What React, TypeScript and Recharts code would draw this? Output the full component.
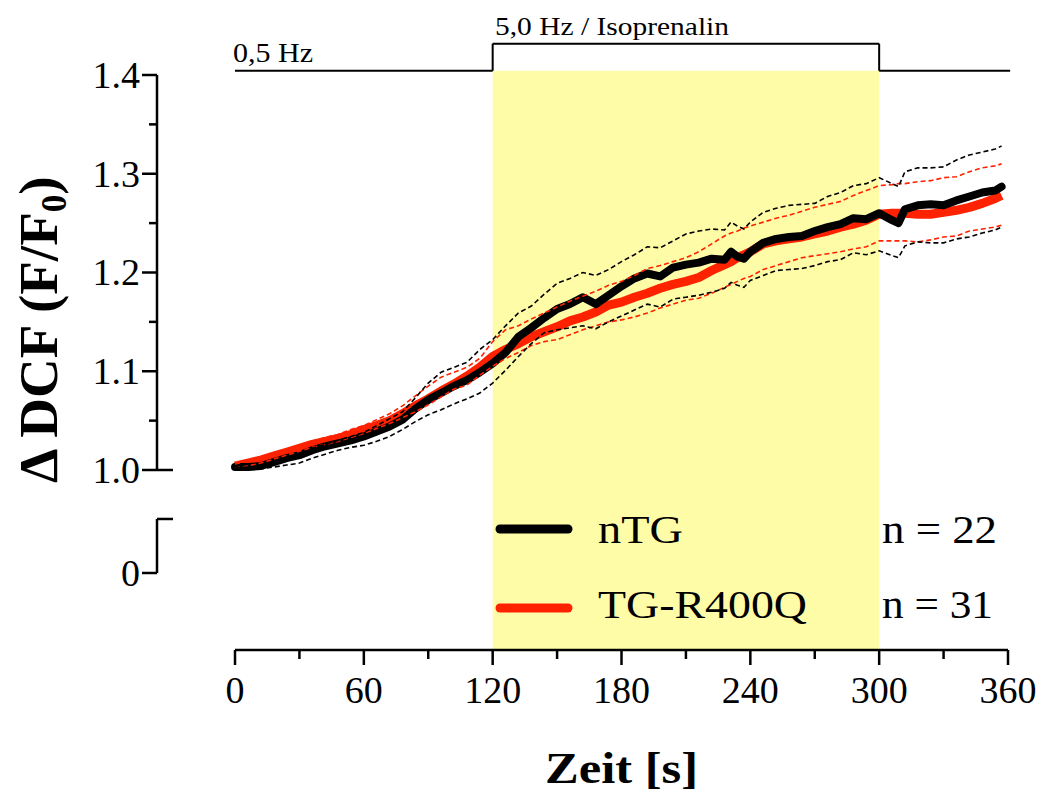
import React from 'react';
import { ComposedChart, Line, XAxis, YAxis, ReferenceArea, ReferenceLine, Legend } from 'recharts';

// time points [s]
const times = [0,6,12,18,24,30,36,42,48,54,60,66,72,78,84,90,96,102,108,114,120,126,132,138,144,150,156,162,168,174,180,186,192,198,204,210,216,222,228,231,234,237,240,246,252,258,264,270,276,282,288,294,300,306,309,312,318,324,330,336,342,348,354,357];

const ntgMean = [1.003,1.003,1.004,1.008,1.012,1.015,1.020,1.024,1.027,1.030,
1.034,1.039,1.044,1.051,1.062,1.071,1.078,1.085,1.091,1.099,
1.108,1.119,1.135,1.144,1.154,1.163,1.168,1.175,1.168,1.177,
1.186,1.194,1.199,1.196,1.205,1.208,1.210,1.214,1.213,
1.221,1.216,1.214,
1.221,1.230,1.234,1.236,1.237,1.242,1.246,1.249,1.255,1.254,1.260,1.253,
1.250,
1.264,1.268,1.269,1.268,1.273,1.277,1.281,1.283,
1.287];

const tgMean = [1.004,1.007,1.010,1.014,1.018,1.022,1.026,1.029,1.032,1.036,
1.041,1.045,1.050,1.057,1.065,1.072,1.080,1.087,1.095,1.104,
1.115,1.122,1.128,1.135,1.140,1.145,1.151,1.155,1.160,1.167,
1.170,1.175,1.179,1.184,1.188,1.191,1.195,1.202,1.208,
1.211,1.215,1.218,
1.221,1.229,1.232,1.234,1.236,1.239,1.242,1.246,1.249,1.253,1.259,1.260,
1.260,
1.260,1.259,1.259,1.261,1.263,1.266,1.270,1.275,
1.278];

const ntgUpper = [1.002,1.003,1.004,1.008,1.011,1.015,1.022,1.026,1.030,1.034,
1.038,1.045,1.052,1.059,1.073,1.088,1.099,1.104,1.109,1.122,
1.132,1.146,1.159,1.166,1.178,1.189,1.194,1.200,1.197,1.203,
1.211,1.218,1.226,1.225,1.232,1.239,1.242,1.244,1.243,
1.251,1.247,1.244,
1.251,1.261,1.265,1.268,1.269,1.270,1.277,1.281,1.288,1.290,1.296,1.290,
1.287,
1.302,1.306,1.306,1.307,1.314,1.319,1.322,1.325,
1.328];

const ntgLower = [1.001,1.001,1.001,1.003,1.005,1.007,1.012,1.016,1.020,1.023,
1.025,1.029,1.034,1.041,1.049,1.056,1.061,1.067,1.072,1.078,
1.088,1.101,1.115,1.128,1.139,1.142,1.144,1.146,1.143,1.150,
1.156,1.162,1.168,1.165,1.173,1.175,1.177,1.180,1.184,
1.190,1.187,1.185,
1.192,1.197,1.202,1.203,1.204,1.207,1.211,1.213,1.220,1.218,1.222,1.217,
1.215,
1.227,1.231,1.230,1.230,1.234,1.236,1.240,1.243,
1.246];

const tgUpper = [1.006,1.009,1.012,1.016,1.020,1.024,1.029,1.033,1.036,1.041,
1.045,1.051,1.057,1.065,1.075,1.085,1.094,1.099,1.104,1.113,
1.130,1.142,1.146,1.153,1.159,1.165,1.171,1.176,1.181,1.187,
1.191,1.197,1.204,1.207,1.211,1.215,1.221,1.229,1.237,
1.240,1.242,1.245,
1.247,1.251,1.255,1.258,1.262,1.266,1.269,1.272,1.278,1.283,1.288,1.289,
1.290,
1.290,1.292,1.293,1.296,1.297,1.302,1.306,1.308,
1.310];

const tgLower = [1.002,1.004,1.007,1.011,1.015,1.019,1.023,1.026,1.029,1.033,
1.037,1.042,1.047,1.053,1.059,1.066,1.074,1.082,1.086,1.096,
1.105,1.113,1.119,1.126,1.130,1.132,1.137,1.142,1.146,1.150,
1.152,1.155,1.159,1.164,1.168,1.172,1.174,1.179,1.185,
1.188,1.191,1.194,
1.196,1.203,1.207,1.211,1.215,1.217,1.219,1.221,1.224,1.226,1.232,1.232,
1.232,
1.232,1.231,1.233,1.236,1.237,1.242,1.244,1.246,
1.248];

// axis ticks
const xMajorTicks = [0, 60, 120, 180, 240, 300, 360];
const xMinorTicks = [30, 90, 150, 210, 270, 330];
const yMajorTicks = [1.0, 1.1, 1.2, 1.3, 1.4];
const yMinorTicks = [1.05, 1.15, 1.25, 1.35];
// broken axis: lower segment holding the "0" tick
const yZeroPos = 0.8957;
const yBreakTop = 0.9504;
const yZeroLabel = '0';

// protocol annotation
const stimStart = 120;
const stimEnd = 300;
const protocolLabels = ['0,5 Hz', '5,0 Hz / Isoprenalin'];

const seriesNames = ['nTG', 'TG-R400Q'];
const seriesN = ['n = 22', 'n = 31'];

const BLACK = '#000000';
const RED = '#FF2200';
const YELLOW = '#FFFCA8';
const FONT = "'Liberation Serif', Tinos, 'Times New Roman', Times, serif";
const fontStyle = { fontFamily: FONT };

const X_MIN = -36.33;
const X_MAX = 360;
const Y_MIN = 0.81772;
const Y_MAX = 1.44;
const Y_AXIS_X = X_MIN;
const BASE_Y = 1.4043;
const STEP_Y = 1.4317;

const data = times.map((t, i) => ({
  t,
  ntg: ntgMean[i],
  tg: tgMean[i],
  ntgU: ntgUpper[i],
  ntgL: ntgLower[i],
  tgU: tgUpper[i],
  tgL: tgLower[i],
}));

const near = (a: number, b: number) => Math.abs(a - b) < 1e-6;

const YTick = (props: any) => {
  const { x, y, payload } = props;
  const v = payload.value;
  const isMajor = yMajorTicks.some((m) => near(m, v));
  const isMinor = yMinorTicks.some((m) => near(m, v));
  const isZero = near(v, yZeroPos);
  const isBreak = near(v, yBreakTop);
  let x1 = x, x2 = x;
  if (isMajor || isZero) x1 = x - 15;
  if (isMinor) x1 = x - 8;
  if (near(v, 1.0) || isBreak) x2 = x + 16;
  const label = isZero ? yZeroLabel : isMajor ? v.toFixed(1) : '';
  return (
    <g>
      <line x1={x1} x2={x2} y1={y} y2={y} stroke={BLACK} strokeWidth={2.5} />
      {label && (
        <text x={x - 17} y={y + 13} textAnchor="end" style={fontStyle} fontSize={38} fill={BLACK}>
          {label}
        </text>
      )}
    </g>
  );
};

const XTick = (props: any) => {
  const { x, y, payload } = props;
  const v = payload.value;
  const isMajor = xMajorTicks.includes(v);
  return (
    <g>
      <line x1={x} x2={x} y1={y} y2={y + (isMajor ? 15 : 9)} stroke={BLACK} strokeWidth={2.5} />
      {isMajor && (
        <text x={x} y={y + 53} textAnchor="middle" style={fontStyle} fontSize={38} fill={BLACK}>
          {String(v)}
        </text>
      )}
    </g>
  );
};

const Overlay = () => (
  <svg width={1043} height={803} style={{ position: 'absolute', left: 0, top: 0, pointerEvents: 'none', fontFamily: FONT }}>
    {/* protocol labels */}
    <text x={233} y={62} style={fontStyle} fontSize={27} textLength={80} lengthAdjust="spacingAndGlyphs">{protocolLabels[0]}</text>
    <text x={495} y={35} style={fontStyle} fontSize={26} textLength={234} lengthAdjust="spacingAndGlyphs">{protocolLabels[1]}</text>
    {/* legend */}
    <line x1={500} x2={568} y1={529} y2={529} stroke={BLACK} strokeWidth={9} strokeLinecap="round" />
    <line x1={500} x2={568} y1={608} y2={608} stroke={RED} strokeWidth={9} strokeLinecap="round" />
    <text x={598} y={543} style={fontStyle} fontSize={39} textLength={85} lengthAdjust="spacingAndGlyphs">{seriesNames[0]}</text>
    <text x={598} y={618} style={fontStyle} fontSize={39} textLength={209} lengthAdjust="spacingAndGlyphs">{seriesNames[1]}</text>
    <text x={882} y={543} style={fontStyle} fontSize={39} textLength={115} lengthAdjust="spacingAndGlyphs">{seriesN[0]}</text>
    <text x={882} y={618} style={fontStyle} fontSize={39} textLength={111} lengthAdjust="spacingAndGlyphs">{seriesN[1]}</text>
    {/* axis titles */}
    <text x={545} y={783} style={fontStyle} fontSize={44} fontWeight="bold" textLength={153} lengthAdjust="spacingAndGlyphs">Zeit [s]</text>
    <text transform="translate(57,483) rotate(-90)" x={0} y={0} style={fontStyle} fontSize={55} fontWeight="bold">
      <tspan>Δ DCF (F/F</tspan>
      <tspan fontSize={35} dy={9}>0</tspan>
      <tspan dy={-9}>)</tspan>
    </text>
  </svg>
);

export default function App() {
  const yTicks = [yZeroPos, yBreakTop, ...yMajorTicks, ...yMinorTicks].sort((a, b) => a - b);
  const xTicks = [...xMajorTicks, ...xMinorTicks].sort((a, b) => a - b);
  const ax = { stroke: BLACK, strokeWidth: 2.5 };
  return (
    <div style={{ position: 'absolute', left: 0, top: 0, width: 1043, height: 803, background: '#fff', fontFamily: FONT }}>
      <ComposedChart width={1043} height={803} data={data} margin={{ top: 35.5, right: 35, left: 0, bottom: 93 }}>
        <XAxis
          dataKey="t"
          type="number"
          domain={[X_MIN, X_MAX]}
          allowDataOverflow
          ticks={xTicks}
          interval={0}
          axisLine={false}
          tickLine={false}
          tickSize={0}
          tickMargin={0}
          height={60}
          tick={<XTick />}
        />
        <YAxis
          type="number"
          domain={[Y_MIN, Y_MAX]}
          allowDataOverflow
          ticks={yTicks}
          interval={0}
          axisLine={false}
          tickLine={false}
          tickSize={0}
          tickMargin={0}
          width={157}
          tick={<YTick />}
        />
        <ReferenceArea x1={stimStart} x2={stimEnd} y1={Y_MIN} y2={BASE_Y} fill={YELLOW} fillOpacity={1} stroke="none" ifOverflow="visible" />
        {/* protocol step line */}
        <ReferenceLine segment={[{ x: 0, y: BASE_Y }, { x: stimStart, y: BASE_Y }]} stroke={BLACK} strokeWidth={2} ifOverflow="visible" />
        <ReferenceLine segment={[{ x: stimStart, y: BASE_Y }, { x: stimStart, y: STEP_Y }]} stroke={BLACK} strokeWidth={2} ifOverflow="visible" />
        <ReferenceLine segment={[{ x: stimStart, y: STEP_Y }, { x: stimEnd, y: STEP_Y }]} stroke={BLACK} strokeWidth={2} ifOverflow="visible" />
        <ReferenceLine segment={[{ x: stimEnd, y: STEP_Y }, { x: stimEnd, y: BASE_Y }]} stroke={BLACK} strokeWidth={2} ifOverflow="visible" />
        <ReferenceLine segment={[{ x: stimEnd, y: BASE_Y }, { x: 361, y: BASE_Y }]} stroke={BLACK} strokeWidth={2} ifOverflow="visible" />
        {/* axis lines */}
        <ReferenceLine segment={[{ x: 0, y: Y_MIN }, { x: 360, y: Y_MIN }]} {...ax} ifOverflow="visible" />
        <ReferenceLine segment={[{ x: Y_AXIS_X, y: 1.0 }, { x: Y_AXIS_X, y: 1.4 }]} {...ax} ifOverflow="visible" />
        <ReferenceLine segment={[{ x: Y_AXIS_X, y: yZeroPos }, { x: Y_AXIS_X, y: yBreakTop }]} {...ax} ifOverflow="visible" />

        <Line dataKey="tg" stroke={RED} strokeWidth={9} dot={false} isAnimationActive={false} strokeLinejoin="round" />
        <Line dataKey="ntg" stroke={BLACK} strokeWidth={8} dot={false} isAnimationActive={false} strokeLinejoin="round" strokeLinecap="round" />
        <Line dataKey="tgU" stroke={RED} strokeWidth={1.6} strokeDasharray="5 3" dot={false} isAnimationActive={false} />
        <Line dataKey="tgL" stroke={RED} strokeWidth={1.6} strokeDasharray="5 3" dot={false} isAnimationActive={false} />
        <Line dataKey="ntgU" stroke={BLACK} strokeWidth={1.6} strokeDasharray="5 3" dot={false} isAnimationActive={false} />
        <Line dataKey="ntgL" stroke={BLACK} strokeWidth={1.6} strokeDasharray="5 3" dot={false} isAnimationActive={false} />
        <Legend layout="vertical" align="center" verticalAlign="middle" content={() => null} />
      </ComposedChart>
      <Overlay />
    </div>
  );
}
